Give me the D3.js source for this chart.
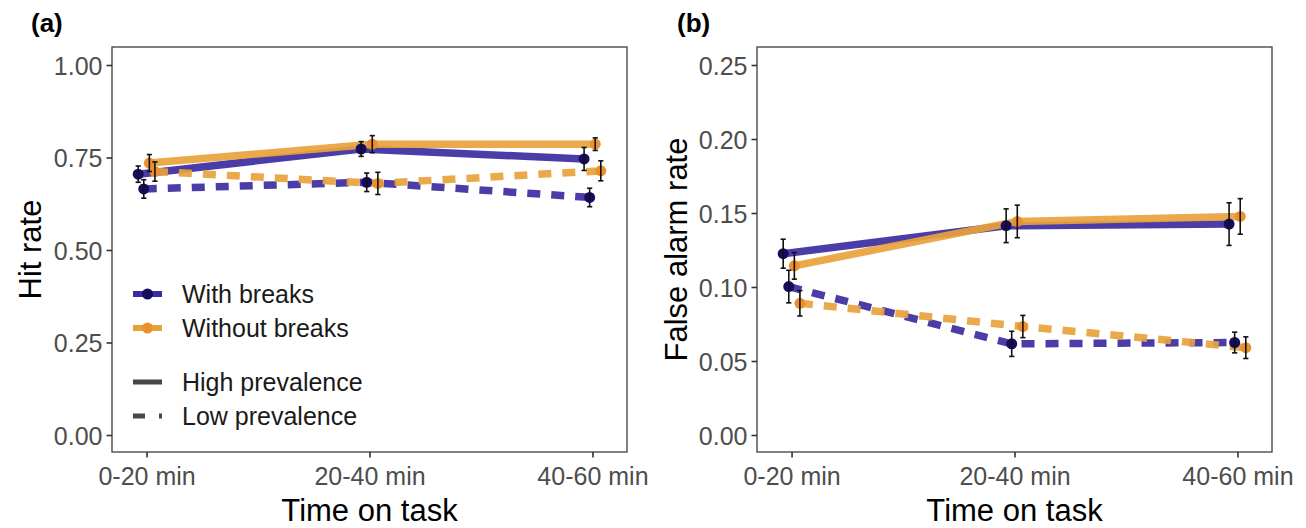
<!DOCTYPE html>
<html>
<head>
<meta charset="utf-8">
<script src="https://cdn.jsdelivr.net/npm/d3@7"></script>
<style>
  html, body { margin: 0; padding: 0; background: #ffffff; }
  svg { display: block; font-family: "Liberation Sans", Arial, Helvetica, sans-serif; }
</style>
</head>
<body>
<svg id="chart" width="1306" height="528"></svg>
<script>
// Time-on-task periods
const periods = ["0-20 min", "20-40 min", "40-60 min"];

// Hit rate (panel a): means and error half-widths
const hitWithHigh      = [0.705, 0.773, 0.746];
const hitWithHighErr   = [0.022, 0.020, 0.031];
const hitWithoutHigh   = [0.735, 0.786, 0.786];
const hitWithoutHighErr= [0.023, 0.023, 0.017];
const hitWithLow       = [0.665, 0.683, 0.642];
const hitWithLowErr    = [0.025, 0.025, 0.025];
const hitWithoutLow    = [0.712, 0.680, 0.714];
const hitWithoutLowErr = [0.026, 0.030, 0.027];

// False alarm rate (panel b): means and error half-widths
const faWithHigh       = [0.1225, 0.1414, 0.1425];
const faWithHighErr    = [0.0098, 0.0114, 0.0144];
const faWithoutHigh    = [0.1143, 0.1443, 0.1477];
const faWithoutHighErr = [0.0090, 0.0110, 0.0120];
const faWithLow        = [0.1003, 0.0616, 0.0625];
const faWithLowErr     = [0.0110, 0.0085, 0.0070];
const faWithoutLow     = [0.0890, 0.0733, 0.0590];
const faWithoutLowErr  = [0.0086, 0.0075, 0.0073];

// Tick labels
const hitTicks = [0, 0.25, 0.5, 0.75, 1.0];
const faTicks  = [0, 0.05, 0.10, 0.15, 0.20, 0.25];

// Legend entries
const breakGroups = ["With breaks", "Without breaks"];
const prevalenceGroups = ["High prevalence", "Low prevalence"];

const COL = {
  withLine: "#3b2d9f", withPt: "#150b60",
  withoutLine: "#e8a23b", withoutPt: "#e8912e"
};
const DASH = "13,11";

const svg = d3.select("#chart");

function buildSeries(wh, whE, woh, wohE, wl, wlE, wol, wolE) {
  return [
    { key: "withHigh",    vals: wh,  err: whE,  off: -0.0375, line: COL.withLine,    pt: COL.withPt,    dash: null },
    { key: "withLow",     vals: wl,  err: wlE,  off: -0.0125, line: COL.withLine,    pt: COL.withPt,    dash: DASH },
    { key: "withoutHigh", vals: woh, err: wohE, off:  0.0125, line: COL.withoutLine, pt: COL.withoutPt, dash: null },
    { key: "withoutLow",  vals: wol, err: wolE, off:  0.0375, line: COL.withoutLine, pt: COL.withoutPt, dash: DASH }
  ];
}

function drawPanel(opts) {
  const { left, right, top, bottom, yMax, ticks, fmt, series, yTitle, tag, tagX, titleX } = opts;
  const g = svg.append("g");

  const x = d3.scaleLinear().domain([1 - 0.155, 3 + 0.155]).range([left, right]);
  const y0 = 435, yTop = 65;
  const y = d3.scaleLinear().domain([0, yMax]).range([y0, yTop]);

  // panel background
  g.append("rect").attr("x", left).attr("y", top)
    .attr("width", right - left).attr("height", bottom - top)
    .attr("fill", "#ffffff");

  // lines
  const line = d3.line().x(d => x(d.i + 1 + d.off)).y(d => y(d.v));
  series.forEach(s => {
    const pts = s.vals.map((v, i) => ({ v, i, off: s.off }));
    g.append("path").datum(pts)
      .attr("d", line)
      .attr("fill", "none")
      .attr("stroke", s.line)
      .attr("stroke-opacity", 0.92)
      .attr("stroke-width", 7.5)
      .attr("stroke-dasharray", s.dash)
      .attr("stroke-linecap", "butt")
      .attr("stroke-linejoin", "round");
  });

  // points
  series.forEach(s => {
    g.selectAll(null).data(s.vals.map((v, i) => ({ v, i })))
      .enter().append("circle")
      .attr("cx", d => x(d.i + 1 + s.off))
      .attr("cy", d => y(d.v))
      .attr("r", 5.5)
      .attr("fill", s.pt);
  });

  // error bars
  series.forEach(s => {
    const data = s.vals.map((v, i) => ({ v, e: s.err[i], i }));
    const eb = g.selectAll(null).data(data).enter().append("g")
      .attr("stroke", "#111111").attr("stroke-width", 1.6).attr("fill", "none");
    eb.append("line")
      .attr("x1", d => x(d.i + 1 + s.off)).attr("x2", d => x(d.i + 1 + s.off))
      .attr("y1", d => y(d.v - d.e)).attr("y2", d => y(d.v + d.e));
    eb.append("line")
      .attr("x1", d => x(d.i + 1 + s.off) - 2.6).attr("x2", d => x(d.i + 1 + s.off) + 2.6)
      .attr("y1", d => y(d.v - d.e)).attr("y2", d => y(d.v - d.e));
    eb.append("line")
      .attr("x1", d => x(d.i + 1 + s.off) - 2.6).attr("x2", d => x(d.i + 1 + s.off) + 2.6)
      .attr("y1", d => y(d.v + d.e)).attr("y2", d => y(d.v + d.e));
  });

  // border
  g.append("rect").attr("x", left).attr("y", top)
    .attr("width", right - left).attr("height", bottom - top)
    .attr("fill", "none").attr("stroke", "#4a4a4a").attr("stroke-width", 1.4);

  // y axis
  const yAxis = d3.axisLeft(y).tickValues(ticks).tickFormat(fmt).tickSize(5.5).tickPadding(4);
  const ya = g.append("g").attr("transform", `translate(${left},0)`).call(yAxis);
  ya.select(".domain").remove();
  ya.selectAll(".tick line").attr("stroke", "#333333").attr("stroke-width", 1.6);
  ya.selectAll(".tick text").attr("fill", "#4d4d4d")
    .style("font-size", "25px").attr("dy", "0.36em");

  // x axis
  const xAxis = d3.axisBottom(x).tickValues([1, 2, 3]).tickFormat(d => periods[d - 1]).tickSize(5.5).tickPadding(9);
  const xa = g.append("g").attr("transform", `translate(0,${bottom})`).call(xAxis);
  xa.select(".domain").remove();
  xa.selectAll(".tick line").attr("stroke", "#333333").attr("stroke-width", 1.6);
  xa.selectAll(".tick text").attr("fill", "#4d4d4d")
    .style("font-size", "25px").attr("dy", "0.75em");

  // axis titles
  g.append("text").attr("x", (left + right) / 2).attr("y", 521)
    .attr("text-anchor", "middle").style("font-size", "31px").attr("fill", "#000")
    .text("Time on task");
  g.append("text")
    .attr("transform", `translate(${titleX},${(top + bottom) / 2}) rotate(-90)`)
    .attr("text-anchor", "middle").style("font-size", "31px").attr("fill", "#000")
    .text(yTitle);

  // panel tag
  g.append("text").attr("x", tagX).attr("y", 32)
    .style("font-size", "26px").style("font-weight", "bold").attr("fill", "#000")
    .text(tag);

  return { g, x, y };
}

const panelA = drawPanel({
  left: 112, right: 627, top: 47, bottom: 452, yMax: 1.0,
  ticks: hitTicks, fmt: d3.format(".2f"),
  series: buildSeries(hitWithHigh, hitWithHighErr, hitWithoutHigh, hitWithoutHighErr,
                      hitWithLow, hitWithLowErr, hitWithoutLow, hitWithoutLowErr),
  yTitle: "Hit rate", tag: "(a)", tagX: 31, titleX: 41
});

drawPanel({
  left: 757, right: 1272, top: 47, bottom: 452, yMax: 0.25,
  ticks: faTicks, fmt: d3.format(".2f"),
  series: buildSeries(faWithHigh, faWithHighErr, faWithoutHigh, faWithoutHighErr,
                      faWithLow, faWithLowErr, faWithoutLow, faWithoutLowErr),
  yTitle: "False alarm rate", tag: "(b)", tagX: 677, titleX: 687
});

// Legend inside panel a
const leg = panelA.g.append("g");
const keyX0 = 133, keyX1 = 162, textX = 182;
const colourRows = [
  { label: breakGroups[0], line: COL.withLine, pt: COL.withPt, y: 294 },
  { label: breakGroups[1], line: COL.withoutLine, pt: COL.withoutPt, y: 328 }
];
colourRows.forEach(r => {
  leg.append("line").attr("x1", keyX0).attr("x2", keyX1).attr("y1", r.y).attr("y2", r.y)
    .attr("stroke", r.line).attr("stroke-width", 6);
  leg.append("circle").attr("cx", (keyX0 + keyX1) / 2).attr("cy", r.y).attr("r", 5.5).attr("fill", r.pt);
  leg.append("text").attr("x", textX).attr("y", r.y).attr("dy", "0.36em")
    .style("font-size", "25px").attr("fill", "#1a1a1a").text(r.label);
});
const typeRows = [
  { label: prevalenceGroups[0], dash: null, y: 382 },
  { label: prevalenceGroups[1], dash: "12,14", y: 416 }
];
typeRows.forEach(r => {
  leg.append("line").attr("x1", keyX0).attr("x2", keyX1).attr("y1", r.y).attr("y2", r.y)
    .attr("stroke", "#474747").attr("stroke-width", 5).attr("stroke-dasharray", r.dash);
  leg.append("text").attr("x", textX).attr("y", r.y).attr("dy", "0.36em")
    .style("font-size", "25px").attr("fill", "#1a1a1a").text(r.label);
});
</script>
</body>
</html>
